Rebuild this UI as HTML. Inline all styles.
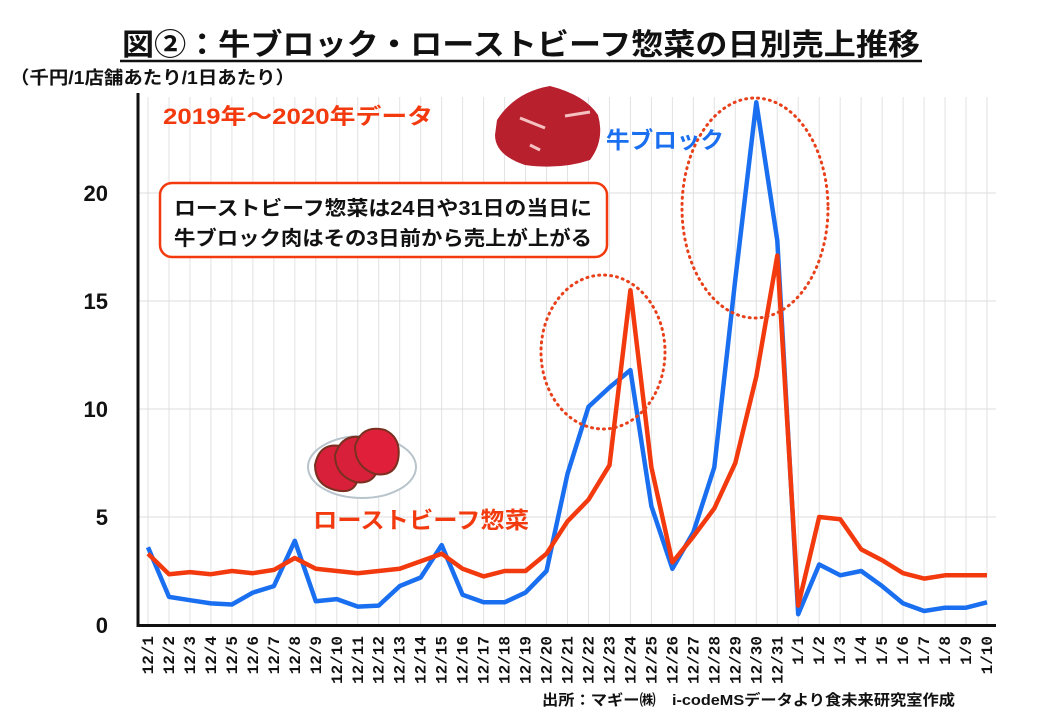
<!DOCTYPE html>
<html><head><meta charset="utf-8"><style>
body{margin:0;background:#fff;width:1040px;height:720px;overflow:hidden}
svg{display:block;font-family:"Liberation Sans","Noto Sans CJK JP",sans-serif}
</style></head><body>
<svg id="s" width="1040" height="720" viewBox="0 0 1040 720">
<text x="122" y="55" font-size="30" font-weight="bold" fill="#111" textLength="798" lengthAdjust="spacingAndGlyphs">図②：牛ブロック・ローストビーフ惣菜の日別売上推移</text>
<line x1="120" y1="61" x2="922" y2="61" stroke="#111" stroke-width="2.5"/>
<text x="10" y="84" font-size="18" font-weight="bold" fill="#111" textLength="285" lengthAdjust="spacingAndGlyphs">（千円/1店舗あたり/1日あたり）</text>
<g id="grid"></g>
<g font-size="22" font-weight="bold" fill="#111" text-anchor="end">
<text x="108" y="201">20</text><text x="108" y="309">15</text><text x="108" y="417">10</text><text x="108" y="525">5</text><text x="108" y="633">0</text>
</g>
<line x1="138" y1="93" x2="138" y2="627" stroke="#111" stroke-width="3"/>
<line x1="137" y1="625.5" x2="996" y2="625.5" stroke="#111" stroke-width="3"/>
<g id="xl" font-size="16" font-weight="bold" fill="#111" font-family="Liberation Mono, monospace"></g>
<path id="blue" fill="none" stroke="#1a6ff0" stroke-width="4.5" stroke-linejoin="round"/>
<path id="red" fill="none" stroke="#f23a0e" stroke-width="4.5" stroke-linejoin="round"/>
<ellipse cx="603" cy="352" rx="62" ry="77" fill="none" stroke="#e8401a" stroke-width="3" stroke-dasharray="1 5" stroke-linecap="round"/>
<ellipse cx="755" cy="208" rx="73" ry="110" fill="none" stroke="#e8401a" stroke-width="3" stroke-dasharray="1 5" stroke-linecap="round"/>
<text x="163" y="124" font-size="22" font-weight="bold" fill="#f23a0e" textLength="270" lengthAdjust="spacingAndGlyphs">2019年～2020年データ</text>
<text x="606" y="148" font-size="23" font-weight="bold" fill="#1a6ff0" textLength="118" lengthAdjust="spacingAndGlyphs">牛ブロック</text>
<text x="313" y="528" font-size="23" font-weight="bold" fill="#f23a0e" textLength="216" lengthAdjust="spacingAndGlyphs">ローストビーフ惣菜</text>
<rect x="160" y="183" width="447" height="74" rx="12" fill="#fff" stroke="#f23a0e" stroke-width="2.5"/>
<text x="174" y="215" font-size="20" font-weight="bold" fill="#111" textLength="418" lengthAdjust="spacingAndGlyphs">ローストビーフ惣菜は24日や31日の当日に</text>
<text x="174" y="245" font-size="20" font-weight="bold" fill="#111" textLength="418" lengthAdjust="spacingAndGlyphs">牛ブロック肉はその3日前から売上が上がる</text>
<path d="M497,120 Q515,92 550,86 Q585,95 598,115 Q605,140 590,160 Q560,170 525,165 Q495,155 495,135 Z" fill="#b8202e"/>
<path d="M520,118 L545,128 M565,116 L590,112 M530,145 L540,150" stroke="#f5c0c0" stroke-width="3"/>
<ellipse cx="362" cy="467" rx="54" ry="31" fill="#fff" stroke="#b8c4cc" stroke-width="2"/>
<path d="M315,465 Q320,440 345,447 Q360,455 358,478 Q355,495 335,490 Q315,485 315,465Z" fill="#d8203a" stroke="#7a3020" stroke-width="2"/>
<path d="M335,455 Q342,432 365,438 Q382,446 378,468 Q374,485 355,482 Q335,475 335,455Z" fill="#d8203a" stroke="#7a3020" stroke-width="2"/>
<path d="M355,446 Q362,424 385,430 Q402,438 398,460 Q394,477 375,474 Q355,467 355,446Z" fill="#e0203a" stroke="#7a3020" stroke-width="2"/>
<text x="955" y="705" text-anchor="end" font-size="15" font-weight="bold" fill="#111" textLength="413" lengthAdjust="spacingAndGlyphs">出所：マギー㈱　i-codeMSデータより食未来研究室作成</text>
</svg>
<script>
var b=[3.6,1.3,1.15,1.0,0.95,1.5,1.8,3.9,1.1,1.2,0.85,0.9,1.8,2.2,3.7,1.4,1.05,1.05,1.5,2.5,7.0,10.1,11.0,11.8,5.5,2.6,4.3,7.3,16.0,24.2,17.8,0.5,2.8,2.3,2.5,1.8,1.0,0.65,0.8,0.8,1.05];
var r=[3.3,2.35,2.45,2.35,2.5,2.4,2.55,3.1,2.6,2.5,2.4,2.5,2.6,2.95,3.3,2.6,2.25,2.5,2.5,3.3,4.8,5.8,7.4,15.5,7.3,2.9,4.1,5.4,7.5,11.5,17.1,0.9,5.0,4.9,3.5,3.0,2.4,2.15,2.3,2.3,2.3];
var lab=[];for(var i=1;i<=31;i++)lab.push("12/"+i);for(i=1;i<=10;i++)lab.push("1/"+i);
function X(i){return 148+i*20.975}function Y(v){return 625-v*21.6}
var g=document.getElementById("grid"),xl=document.getElementById("xl"),h="";
for(i=0;i<41;i++)h+='<line x1="'+X(i)+'" y1="97" x2="'+X(i)+'" y2="625" stroke="#e2e2e2" stroke-width="1"/>';
for(var v=5;v<=20;v+=5)h+='<line x1="138" y1="'+Y(v)+'" x2="996" y2="'+Y(v)+'" stroke="#dcdcdc" stroke-width="1"/>';
g.innerHTML=h;h="";
for(i=0;i<41;i++)h+='<text transform="translate('+(X(i)+5)+',636) rotate(-90)" text-anchor="end">'+lab[i]+'</text>';
xl.innerHTML=h;
function p(a){return a.map(function(v,i){return(i?"L":"M")+X(i).toFixed(1)+","+Y(v).toFixed(1)}).join("")}
document.getElementById("blue").setAttribute("d",p(b));
document.getElementById("red").setAttribute("d",p(r));
</script>
</body></html>
